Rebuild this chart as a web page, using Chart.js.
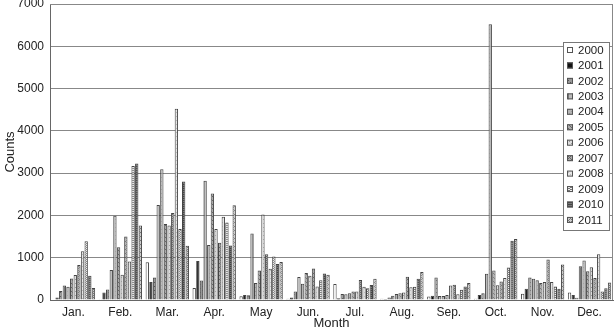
<!DOCTYPE html>
<html>
<head>
<meta charset="utf-8">
<script src="https://cdn.jsdelivr.net/npm/chart.js@4"></script>
<style>
  html, body { margin: 0; padding: 0; background: #fff; }
  #wrap { width: 614px; height: 333px; }
</style>
</head>
<body>
<div id="wrap"><canvas id="countsChart" width="614" height="333"></canvas></div>
<script>
const months = ['Jan.', 'Feb.', 'Mar.', 'Apr.', 'May', 'Jun.', 'Jul.', 'Aug.', 'Sep.', 'Oct.', 'Nov.', 'Dec.'];
const years = ['2000', '2001', '2002', '2003', '2004', '2005', '2006', '2007', '2008', '2009', '2010', '2011'];
const yTicks = [0, 1000, 2000, 3000, 4000, 5000, 6000, 7000];

// counts per year, Jan..Dec
const counts2000 = [10, 20, 890, 285, 90, 30, 380, 30, 80, 30, 145, 175];
const counts2001 = [60, 180, 425, 920, 120, 60, 40, 25, 100, 120, 265, 120];
const counts2002 = [210, 250, 530, 460, 110, 200, 140, 60, 535, 160, 535, 55];
const counts2003 = [345, 710, 2245, 2820, 1570, 545, 135, 100, 95, 620, 505, 800];
const counts2004 = [315, 1990, 3095, 1300, 400, 385, 160, 140, 95, 6520, 465, 935];
const counts2005 = [510, 1250, 1800, 2520, 700, 640, 200, 160, 120, 700, 400, 680];
const counts2006 = [590, 600, 1760, 1680, 2020, 575, 200, 180, 345, 350, 425, 775];
const counts2007 = [825, 1500, 2055, 1355, 1080, 745, 475, 550, 360, 440, 960, 520];
const counts2008 = [1150, 910, 4520, 1970, 740, 320, 315, 300, 135, 520, 425, 1080];
const counts2009 = [1390, 3170, 1680, 1830, 1030, 465, 275, 315, 240, 770, 320, 200];
const counts2010 = [575, 3230, 2800, 1290, 850, 625, 355, 500, 320, 1400, 265, 280];
const counts2011 = [285, 1760, 1285, 2240, 900, 600, 500, 665, 400, 1440, 840, 415];

const allCounts = [counts2000, counts2001, counts2002, counts2003, counts2004, counts2005,
  counts2006, counts2007, counts2008, counts2009, counts2010, counts2011];

// small grayscale fill patterns, one per year
const makePattern = (bg, fg, cells) => {
  const c = document.createElement('canvas');
  c.width = 4; c.height = 4;
  const g = c.getContext('2d');
  g.fillStyle = bg;
  g.fillRect(0, 0, 4, 4);
  g.fillStyle = fg;
  cells.forEach(p => g.fillRect(p[0], p[1], 1, 1));
  return g.createPattern(c, 'repeat');
};

const fills = [
  '#ffffff',
  '#111111',
  makePattern('#999', '#555', [[0, 0], [2, 2]]),
  makePattern('#bbb', '#777', [[0, 0], [0, 1], [0, 2], [0, 3]]),
  makePattern('#b4b4b4', '#999', [[1, 1], [3, 3]]),
  makePattern('#aaa', '#666', [[0, 0], [1, 1], [2, 2], [3, 3]]),
  makePattern('#ddd', '#999', [[1, 1], [3, 3]]),
  makePattern('#aaa', '#666', [[0, 0], [2, 0], [1, 1], [0, 2], [2, 2], [3, 3]]),
  makePattern('#e6e6e6', '#bbb', [[0, 0], [2, 2]]),
  makePattern('#eee', '#777', [[0, 0], [1, 0], [2, 1], [3, 1], [0, 2], [1, 2], [2, 3], [3, 3]]),
  makePattern('#777', '#444', [[0, 0], [1, 0], [2, 0], [3, 0], [0, 2], [1, 2], [2, 2], [3, 2]]),
  makePattern('#ccc', '#777', [[0, 0], [1, 1], [3, 1], [2, 2], [1, 3], [3, 3]])
];

const datasets = years.map((y, i) => ({
  label: y,
  data: allCounts[i],
  backgroundColor: fills[i],
  borderColor: '#444',
  borderWidth: 1,
  categoryPercentage: 0.93,
  barPercentage: 0.92
}));

// plot frame + legend box drawn inside the plot area
const framePlugin = {
  id: 'frame',
  afterDraw(chart) {
    const ctx = chart.ctx;
    const a = chart.chartArea;
    ctx.save();
    ctx.strokeStyle = '#888';
    ctx.lineWidth = 1;
    ctx.beginPath();
    ctx.moveTo(a.left, a.top + 0.5);
    ctx.lineTo(a.right - 0.5, a.top + 0.5);
    ctx.lineTo(a.right - 0.5, a.bottom);
    ctx.stroke();

    const bx = 563, by = 42, bw = 46, bh = 188;
    ctx.fillStyle = '#fff';
    ctx.fillRect(bx, by, bw, bh);
    ctx.strokeStyle = '#777';
    ctx.strokeRect(bx + 0.5, by + 0.5, bw, bh);
    ctx.font = '11.5px "Liberation Sans", Arial, sans-serif';
    ctx.textBaseline = 'middle';
    chart.data.datasets.forEach((ds, i) => {
      const cy = by + 8 + i * 15.45;
      ctx.fillStyle = ds.backgroundColor;
      ctx.fillRect(bx + 4, cy - 3, 6, 6);
      ctx.strokeStyle = '#555';
      ctx.strokeRect(bx + 4.5, cy - 2.5, 5, 5);
      ctx.fillStyle = '#222';
      ctx.fillText(ds.label, bx + 15, cy + 0.5);
    });
    ctx.restore();
  }
};

const countsChart = new Chart(document.getElementById('countsChart'), {
  type: 'bar',
  data: { labels: months, datasets: datasets },
  plugins: [framePlugin],
  options: {
    responsive: false,
    animation: false,
    layout: { padding: { top: 4, right: 1, left: 0, bottom: 0 } },
    plugins: { legend: { display: false }, tooltip: { enabled: false } },
    scales: {
      x: {
        grid: { display: false, drawTicks: false },
        border: { color: '#666', width: 1 },
        ticks: { color: '#222', padding: 5, font: { family: '"Liberation Sans", Arial, sans-serif', size: 12 } },
        title: { display: true, text: 'Month', color: '#222', padding: { top: 0, bottom: 2 },
          font: { family: '"Liberation Sans", Arial, sans-serif', size: 13 } },
        afterFit: s => { s.height = 33; s.paddingLeft = 0; s.paddingRight = 0; }
      },
      y: {
        min: 0,
        max: 7000,
        afterBuildTicks: s => { s.ticks = yTicks.map(v => ({ value: v })); },
        grid: { color: '#888', drawTicks: false },
        border: { color: '#666', width: 1 },
        ticks: { color: '#222', padding: 6, callback: v => String(v),
          font: { family: '"Liberation Sans", Arial, sans-serif', size: 12 } },
        title: { display: true, text: 'Counts', color: '#222', padding: { top: 3, bottom: 0 },
          font: { family: '"Liberation Sans", Arial, sans-serif', size: 13 } },
        afterFit: s => { s.width = 50; s.paddingTop = 0; s.paddingBottom = 0; }
      }
    }
  }
});
</script>
</body>
</html>
